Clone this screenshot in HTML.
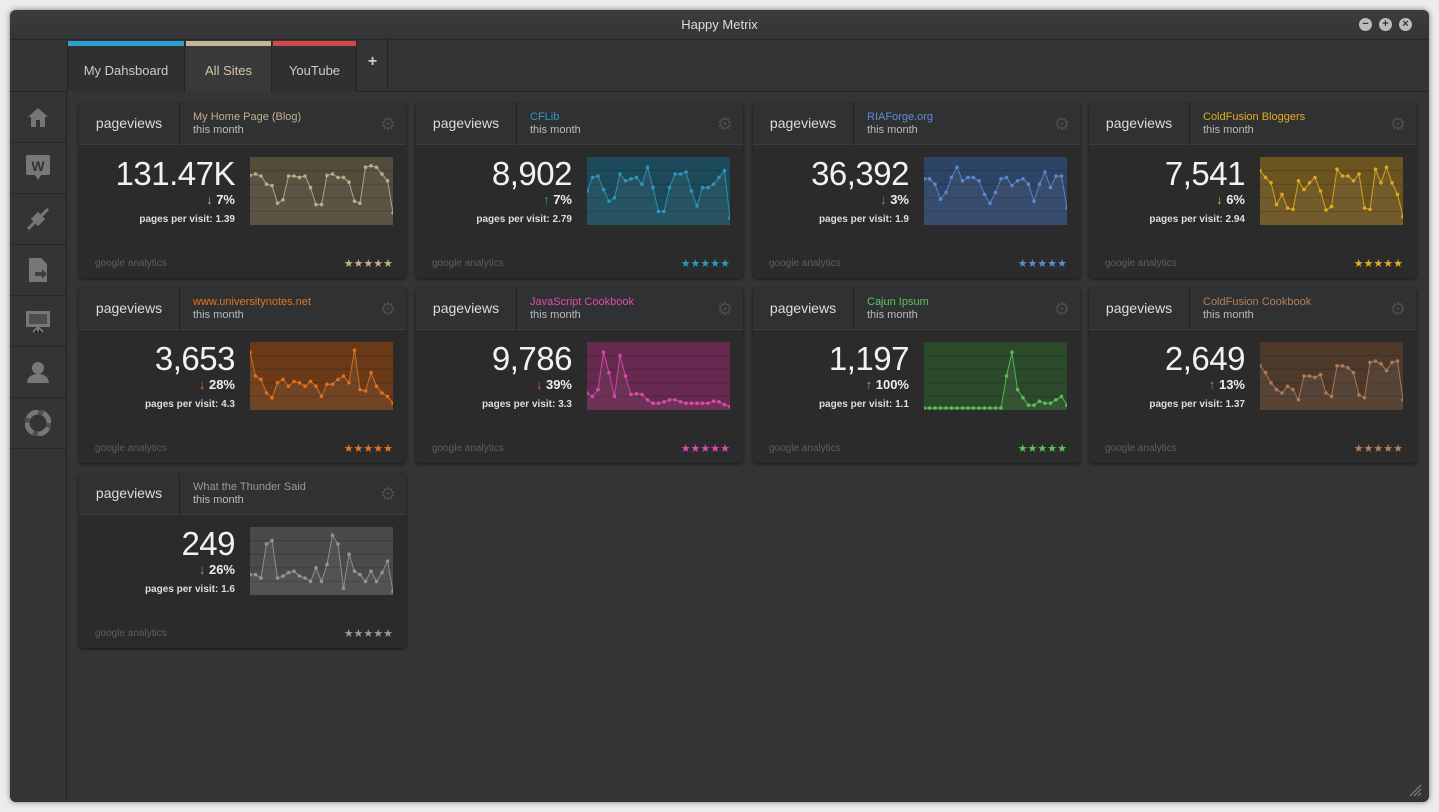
<!DOCTYPE html>
<html><head><meta charset="utf-8"><style>
*{box-sizing:border-box;margin:0;padding:0}
body{width:1439px;height:812px;background:#ececec;font-family:"Liberation Sans",sans-serif;position:relative;overflow:hidden}
#win{position:absolute;left:10px;top:10px;width:1419px;height:792px;background:#343537;border-radius:6px;box-shadow:0 0 6px rgba(0,0,0,.5);overflow:hidden}
#title{height:30px;background:linear-gradient(#3c3d3f,#333436);border-bottom:1px solid #262626;color:#ddd;font-size:13px;text-align:center;line-height:30px}
.wb{position:absolute;top:8px;width:13px;height:13px;border-radius:50%;background:#bbb;color:#333;font-size:11px;line-height:13px;text-align:center;font-weight:bold}
#tabs{position:absolute;top:31px;left:0;width:100%;height:51px;background:#333436;border-bottom:1px solid #242424}
.tab{position:absolute;top:0;height:51px;background:#2f3032;border-right:1px solid #252525;color:#ccc;font-size:13px;text-align:center;line-height:60px}
.tab i{position:absolute;left:0;top:0;right:0;height:5px}
#side{position:absolute;left:0;top:82px;width:57px;height:710px;background:#333436;border-right:1px solid #242424}
.si{height:51px;border-bottom:1px solid #262626;display:flex;align-items:center;justify-content:center;opacity:.8}
.card{position:absolute;width:327px;height:175px;background:#2b2b2c;border-radius:3px;box-shadow:0 1px 3px rgba(0,0,0,.6)}
.hd{height:42px;background:#303132;border-bottom:1px solid #3d3d3d;border-radius:3px 3px 0 0;position:relative}
.pv{position:absolute;left:0;top:0;width:101px;height:42px;border-right:1px solid #222;color:#ddd;font-size:14px;text-align:center;line-height:40px}
.nm{position:absolute;left:114px;top:8px;font-size:11px;line-height:13px;color:#bbb}
.nm span{display:block;color:#bbb}
.gear{position:absolute;right:10px;top:12px;color:#4c4c4c;font-size:18px;line-height:18px}
.big{position:absolute;right:171px;top:52px;color:#f2f2f2;font-size:33px;font-weight:normal;letter-spacing:-0.5px}
.pct{position:absolute;right:171px;top:89px;color:#eee;font-size:13px;font-weight:bold}
.ppv{position:absolute;right:171px;top:111px;color:#ddd;font-size:10px;font-weight:bold}
.ga{position:absolute;left:16px;top:155px;color:#5e5e5e;font-size:10px}
.st{position:absolute;right:13px;top:154px;font-size:11px;letter-spacing:0px}
svg.sp{position:absolute;left:171px;top:54px}
</style></head><body>
<div id="win">
<div id="title">Happy Metrix
<div class="wb" style="left:1349px">−</div><div class="wb" style="left:1369px">+</div><div class="wb" style="left:1389px">×</div></div>
<div id="tabs">
<div class="tab" style="left:57px;width:118px;border-left:1px solid #252525"><i style="background:#2e9fd0"></i>My Dahsboard</div>
<div class="tab" style="left:176px;width:86px;background:#38393b;color:#d8c7a5"><i style="background:#c6b498"></i>All Sites</div>
<div class="tab" style="left:263px;width:84px"><i style="background:#d04848"></i>YouTube</div>
<div class="tab" style="left:348px;width:30px;line-height:50px;font-size:16px;font-weight:bold;top:-4px;background:transparent">+</div>
</div>
<div id="side">
<div class="si"><svg width="22" height="22"><path d="M11 2 L21 11 H18 V21 H13 V14 H9 V21 H4 V11 H1Z" fill="#888"/></svg></div>
<div class="si"><svg width="26" height="28"><rect x="1" y="1" width="24" height="20" rx="2" fill="#888"/><path d="M10 21 L13 26 L16 21Z" fill="#888"/><text x="13" y="17" font-size="14" font-weight="bold" text-anchor="middle" fill="#333" font-family="Liberation Sans">W</text></svg></div>
<div class="si"><svg width="26" height="26"><path d="M3 23 L10 16 M16 10 L23 3" stroke="#888" stroke-width="3"/><rect x="8" y="8" width="10" height="10" transform="rotate(45 13 13)" fill="#888"/></svg></div>
<div class="si"><svg width="22" height="26"><path d="M2 1 H14 L20 7 V25 H2Z" fill="#888"/><path d="M8 15 H15 V12 L20 17 L15 22 V19 H8Z" fill="#444"/></svg></div>
<div class="si"><svg width="26" height="24"><rect x="1" y="2" width="24" height="16" fill="#888"/><rect x="4" y="5" width="18" height="10" fill="#555"/><path d="M13 18 V23 M8 23 L13 18 L18 23" stroke="#888" stroke-width="2"/></svg></div>
<div class="si"><svg width="24" height="24"><circle cx="12" cy="8" r="6" fill="#888"/><path d="M1 23 Q2 14 12 14 Q22 14 23 23Z" fill="#888"/></svg></div>
<div class="si"><svg width="26" height="26"><circle cx="13" cy="13" r="11" fill="none" stroke="#888" stroke-width="5"/><circle cx="13" cy="13" r="11" fill="none" stroke="#555" stroke-width="5" stroke-dasharray="5 12.3"/></svg></div>
</div>
<div id="cards"></div>
</div>
<svg style="position:absolute;left:1408px;top:783px" width="14" height="14"><path d="M2 13 L13 2 M6 13 L13 6 M10 13 L13 10" stroke="#888"/></svg>
<script>
var D=[
["My Home Page (Blog)","#c4b08c","#534b3c","131.47K","↓","7%","1.39",[.27,.25,.28,.4,.42,.68,.63,.28,.28,.3,.28,.45,.7,.7,.27,.25,.3,.3,.37,.65,.68,.15,.13,.15,.25,.35,.82]],
["CFLib","#2a9bc4","#1d4a5a","8,902","↑","7%","2.79",[.5,.3,.28,.48,.65,.6,.25,.35,.32,.3,.4,.15,.45,.8,.8,.45,.25,.25,.22,.5,.72,.45,.45,.4,.3,.2,.9]],
["RIAForge.org","#5a8dd4","#2e4466","36,392","↓","3%","1.9",[.32,.32,.4,.62,.52,.3,.15,.35,.3,.3,.35,.55,.68,.52,.32,.3,.42,.35,.32,.4,.65,.4,.22,.45,.28,.28,.75]],
["ColdFusion Bloggers","#e6ad1e","#6b5420","7,541","↓","6%","2.94",[.2,.3,.38,.7,.55,.75,.77,.35,.48,.38,.3,.5,.78,.73,.18,.28,.28,.35,.25,.75,.77,.18,.38,.15,.38,.55,.88]],
["www.universitynotes.net","#e8741e","#6a3a18","3,653","↓","28%","4.3",[.15,.5,.55,.75,.82,.6,.55,.65,.58,.6,.65,.58,.65,.8,.62,.62,.55,.5,.6,.12,.7,.72,.45,.65,.75,.8,.9]],
["JavaScript Cookbook","#e04ab2","#66294f","9,786","↓","39%","3.3",[.75,.8,.7,.15,.45,.8,.2,.5,.77,.76,.77,.85,.9,.9,.88,.85,.85,.88,.9,.9,.9,.9,.9,.87,.88,.92,.95]],
["Cajun Ipsum","#5ec45a","#2b4a2b","1,197","↑","100%","1.1",[.97,.97,.97,.97,.97,.97,.97,.97,.97,.97,.97,.97,.97,.97,.97,.5,.15,.7,.82,.93,.93,.87,.9,.9,.85,.8,.93]],
["ColdFusion Cookbook","#b5805a","#4d3a2d","2,649","↑","13%","1.37",[.35,.45,.6,.7,.75,.65,.7,.85,.5,.5,.52,.48,.75,.8,.35,.35,.38,.45,.78,.82,.3,.28,.32,.42,.3,.28,.85]],
["What the Thunder Said","#999","#4a4a4a","249","↓","26%","1.6",[.7,.7,.75,.25,.2,.75,.72,.67,.65,.72,.75,.8,.6,.8,.55,.12,.25,.9,.4,.65,.7,.8,.65,.8,.67,.5,.95]]];
var h="";
D.forEach(function(d,i){
var x=[69,406,743,1079][i%4],y=[93,278,463][Math.floor(i/4)];
var W=143,H=68,n=d[7].length,pts=d[7].map(function(v,k){return [(k*W/(n-1)).toFixed(1),(v*H).toFixed(1)]});
var line=pts.map(function(p){return p.join(",")}).join(" ");
var s='<svg class="sp" width="'+W+'" height="'+H+'"><rect width="'+W+'" height="'+H+'" fill="'+d[2]+'"/>';
for(var g=1;g<5;g++)s+='<line x1="0" x2="'+W+'" y1="'+(g*H/5)+'" y2="'+(g*H/5)+'" stroke="rgba(0,0,0,.18)"/>';
s+='<polygon points="0,'+H+' '+line+' '+W+','+H+'" fill="rgba(255,255,255,.05)"/>';
s+='<polyline points="'+line+'" fill="none" stroke="'+d[1]+'" stroke-width="1" opacity=".85"/>';
pts.forEach(function(p){s+='<circle cx="'+p[0]+'" cy="'+p[1]+'" r="1.8" fill="'+d[1]+'" opacity=".9"/>'});
s+='</svg>';
h+='<div class="card" style="left:'+x+'px;top:'+y+'px"><div class="hd"><div class="pv">pageviews</div><div class="nm" style="color:'+d[1]+'">'+d[0]+'<span>this month</span></div><div class="gear">⚙</div></div>'+
'<div class="big">'+d[3]+'</div><div class="pct"><span style="color:'+d[1]+'">'+d[4]+'</span> '+d[5]+'</div><div class="ppv">pages per visit: '+d[6]+'</div>'+s+
'<div class="ga">google analytics</div><div class="st" style="color:'+d[1]+'">★★★★★</div></div>';
});
document.getElementById("cards").innerHTML=h;
</script>
</body></html>
